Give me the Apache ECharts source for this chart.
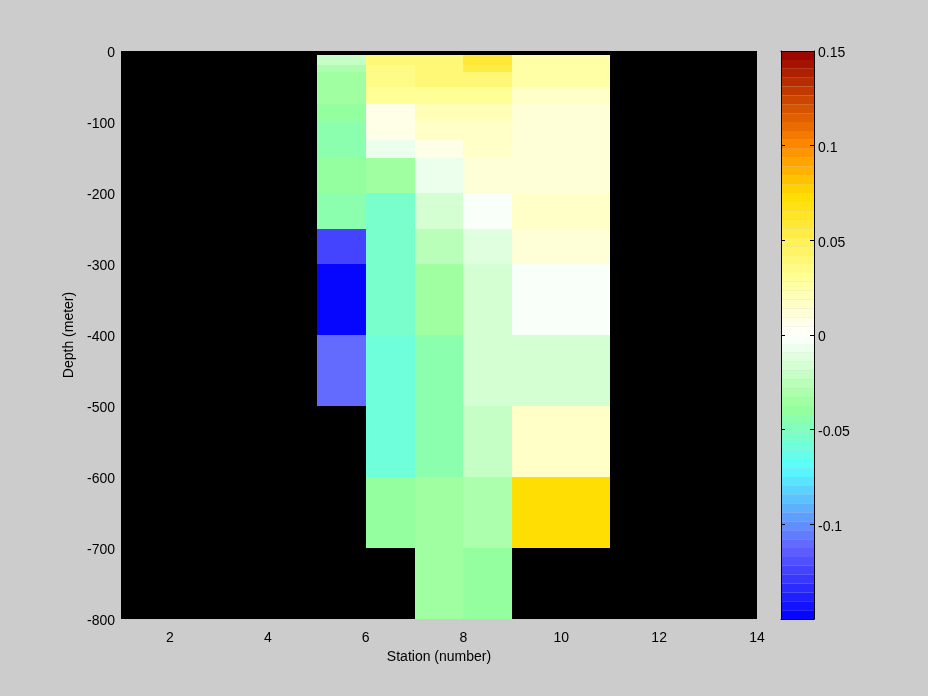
<!DOCTYPE html>
<html><head><meta charset="utf-8">
<style>html,body{margin:0;padding:0;background:#cccccc;}#c{width:928px;height:696px;}</style>
<script src="https://cdn.jsdelivr.net/npm/echarts@6/dist/echarts.min.js"></script>
</head><body><div id="c"></div>
<script>
// Grid edges (pcolor style)
const stationEdges = [5, 6, 7, 8, 9, 11];
const depthEdges = [-5, -20, -30, -50, -75, -100, -125, -150, -200, -250, -300, -400, -500, -600, -700, -800];
// Values per station column, top to bottom (null = no data)
const st5 = [-0.020, -0.032, -0.035, -0.035, -0.038, -0.045, -0.045, -0.041, -0.046, -0.123, -0.148, -0.112, null, null, null];
const st6 = [0.038, 0.034, 0.034, 0.030, 0.007, 0.007, -0.0085, -0.035, -0.053, -0.053, -0.053, -0.060, -0.057, -0.041, null];
const st7 = [0.041, 0.041, 0.041, 0.032, 0.023, 0.016, 0.007, -0.0085, -0.017, -0.026, -0.035, -0.044, -0.044, -0.037, -0.037];
const st8 = [0.060, 0.056, 0.041, 0.032, 0.023, 0.0185, 0.016, 0.0115, -0.004, -0.011, -0.017, -0.017, -0.022, -0.032, -0.040];
const st9 = [0.028, 0.028, 0.028, 0.016, 0.0115, 0.0115, 0.0115, 0.0115, 0.016, 0.0115, -0.004, -0.017, 0.016, 0.072, null];
const columns = [st5, st6, st7, st8, st9];

const xTicks = [2, 4, 6, 8, 10, 12, 14];
const cbarMin = -0.15, cbarMax = 0.15, cbarLevels = 64;

// colormap stops (style)
const cmapStops = [
  [-0.15, [0, 0, 255]],
  [-0.112, [100, 100, 255]],
  [-0.1, [96, 144, 255]],
  [-0.07, [88, 255, 255]],
  [-0.038, [152, 255, 152]],
  [0, [255, 255, 255]],
  [0.03, [255, 255, 152]],
  [0.05, [255, 240, 85]],
  [0.0735, [255, 221, 0]],
  [0.1, [255, 136, 0]],
  [0.15, [150, 0, 0]]
];
function cmap(v) {
  for (let i = 0; i < cmapStops.length - 1; i++) {
    const a = cmapStops[i], b = cmapStops[i + 1];
    if (v <= b[0] || i === cmapStops.length - 2) {
      const t = Math.max(0, Math.min(1, (v - a[0]) / (b[0] - a[0])));
      const c = a[1].map((x, k) => Math.round(x + (b[1][k] - x) * t));
      return 'rgb(' + c.join(',') + ')';
    }
  }
}
const pieces = [];
const step = (cbarMax - cbarMin) / cbarLevels;
for (let i = 0; i < cbarLevels; i++) {
  const lo = cbarMin + i * step, hi = lo + step;
  pieces.push({ min: lo, max: hi, color: cmap(lo + step / 2) });
}

const cells = [];
columns.forEach((col, i) => {
  col.forEach((v, j) => {
    if (v !== null) cells.push([stationEdges[i], stationEdges[i + 1], depthEdges[j], depthEdges[j + 1], v]);
  });
});

const FONT = 'Liberation Sans';
const PLOT_TOP = 51, PLOT_H = 568;
const labelRich = { a: { color: '#000', fontSize: 14, fontFamily: FONT, padding: [5, 0, 0, 0] } };
const chart = echarts.init(document.getElementById('c'));
chart.setOption({
  backgroundColor: '#cccccc',
  animation: false,
  textStyle: { fontFamily: FONT },
  grid: [
    { left: 121, top: PLOT_TOP, width: 636, height: PLOT_H, show: true, backgroundColor: '#000000', borderWidth: 0 },
    { left: 781, top: PLOT_TOP, width: 33, height: PLOT_H, show: false }
  ],
  visualMap: {
    type: 'piecewise', seriesIndex: 0, dimension: 4,
    pieces: pieces, left: 781, top: PLOT_TOP, orient: 'vertical',
    itemWidth: 33, itemHeight: PLOT_H / cbarLevels, itemGap: 0, itemSymbol: 'rect',
    showLabel: false, padding: 0, hoverLink: false, selectedMode: false, z: 2
  },
  xAxis: [
    { type: 'value', gridIndex: 0, min: 1, max: 14,
      name: 'Station (number)', nameLocation: 'middle', nameGap: 31,
      nameTextStyle: { color: '#000', fontSize: 14, fontFamily: FONT },
      axisLine: { show: false, onZero: false }, splitLine: { show: false },
      axisTick: { show: false, customValues: xTicks },
      axisLabel: { customValues: xTicks, color: '#000', fontSize: 14, margin: 12, fontFamily: FONT } },
    { type: 'value', gridIndex: 1, min: 0, max: 1, position: 'bottom', z: 10,
      axisLine: { show: true, onZero: false, lineStyle: { color: '#000', width: 1 } },
      axisTick: { show: false }, axisLabel: { show: false }, splitLine: { show: false } },
    { type: 'value', gridIndex: 1, min: 0, max: 1, position: 'top', z: 10,
      axisLine: { show: true, onZero: false, lineStyle: { color: '#000', width: 1 } },
      axisTick: { show: false }, axisLabel: { show: false }, splitLine: { show: false } }
  ],
  yAxis: [
    { type: 'value', gridIndex: 0, min: -800, max: 0, interval: 100,
      name: 'Depth (meter)', nameLocation: 'middle', nameGap: 41,
      nameTextStyle: { color: '#000', fontSize: 14, fontFamily: FONT },
      axisLine: { show: false, onZero: false }, axisTick: { show: false }, splitLine: { show: false },
      axisLabel: { margin: 6, formatter: v => '{a|' + v + '}', rich: labelRich } },
    { type: 'value', gridIndex: 1, min: cbarMin, max: cbarMax, interval: 0.05, position: 'right', z: 10,
      axisLine: { show: true, onZero: false, lineStyle: { color: '#000', width: 1 } },
      axisTick: { show: true, inside: true, length: 4, lineStyle: { color: '#000' } },
      splitLine: { show: false },
      axisLabel: { margin: 4, rich: labelRich,
        formatter: v => (Math.abs(v - cbarMin) < 1e-9 ? '' : '{a|' + parseFloat(v.toFixed(2)) + '}') } },
    { type: 'value', gridIndex: 1, min: cbarMin, max: cbarMax, interval: 0.05, position: 'left', z: 10,
      axisLine: { show: true, onZero: false, lineStyle: { color: '#000', width: 1 } },
      axisTick: { show: true, inside: true, length: 4, lineStyle: { color: '#000' } },
      splitLine: { show: false }, axisLabel: { show: false } }
  ],
  series: [{
    type: 'custom', xAxisIndex: 0, yAxisIndex: 0,
    encode: { x: [0, 1], y: [2, 3] },
    data: cells,
    renderItem: function (params, api) {
      const p0 = api.coord([api.value(0), api.value(2)]);
      const p1 = api.coord([api.value(1), api.value(3)]);
      const x0 = Math.round(Math.min(p0[0], p1[0])), x1 = Math.round(Math.max(p0[0], p1[0]));
      const y0 = Math.round(Math.min(p0[1], p1[1])), y1 = Math.round(Math.max(p0[1], p1[1]));
      return { type: 'rect', shape: { x: x0, y: y0, width: x1 - x0, height: y1 - y0 },
        style: { fill: api.visual('color'), stroke: null } };
    }
  }]
});
</script></body></html>
